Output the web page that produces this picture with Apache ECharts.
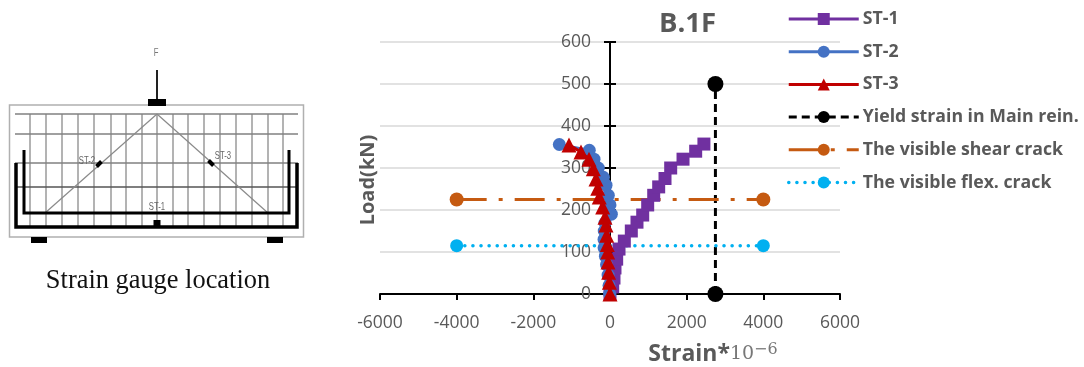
<!DOCTYPE html>
<html>
<head>
<meta charset="utf-8">
<style>
  html, body { margin: 0; padding: 0; background: #fff; }
  #chart { width: 1084px; height: 367px; }
</style>
</head>
<body>
<div id="chart"></div>
<script src="https://cdn.jsdelivr.net/npm/echarts@6/dist/echarts.min.js"></script>
<script>
// values: [strain, load]
var st1 = [[0,0],[70,17],[104,38],[130,62],[174,83],[235,107],[374,126],[556,150],[704,171],[853,188],[983,212],[1140,235],[1270,255],[1435,275],[1583,300],[1905,321],[2235,340],[2450,357]];
var st2 = [[-10,0],[-25,20],[-50,45],[-90,70],[-120,90],[-155,110],[-155,130],[-150,150],[-130,169],[35,190],[0,212],[-44,235],[-104,259],[-174,278],[-305,300],[-417,321],[-540,342],[-1322,356]];
var st3 = [[0,0],[-17,28],[-35,52],[-52,76],[-60,100],[-70,118],[-87,140],[-104,164],[-130,183],[-190,207],[-280,231],[-320,252],[-365,274],[-435,298],[-548,321],[-757,338],[-1070,355]];
var yieldStrain = [[2750,0],[2750,500]];
var shearCrack = [[-4000,225],[4000,225]];
var flexCrack = [[-4000,115],[4000,115]];
var legendNames = ["ST-1","ST-2","ST-3","Yield strain in Main rein.","The visible shear crack","The visible flex. crack"];
var stirrupX = [30,46,62,78,94,111,126,142,157,173,188,204,220,236,252,268,283];

var grey = "#595959";
var chart = echarts.init(document.getElementById("chart"));

// beam sketch on the left
var sketch = [];
function ln(x1, y1, x2, y2, color, w) {
  sketch.push({ type: "line", shape: { x1: x1, y1: y1, x2: x2, y2: y2 }, style: { stroke: color, lineWidth: w } });
}
function box(x, y, w, h, rot) {
  sketch.push({ type: "rect", x: x, y: y, rotation: rot || 0, shape: { x: -w / 2, y: -h / 2, width: w, height: h }, style: { fill: "#000" } });
}
function txt(x, y, s, font, color, sx) {
  sketch.push({ type: "text", x: x, y: y, scaleX: sx || 1, style: { text: s, font: font, fill: color, textAlign: "center", textVerticalAlign: "middle" } });
}
sketch.push({ type: "rect", shape: { x: 9.5, y: 105, width: 294, height: 132 }, style: { fill: "#fff", stroke: "#b0b0b0", lineWidth: 1.5 } });
stirrupX.forEach(function (x) { ln(x, 114, x, 227, "#8a8a8a", 1.3); });
ln(15, 114, 298, 114, "#808080", 1.3);
ln(15, 134, 298, 134, "#808080", 1.3);
ln(15, 163, 298, 163, "#808080", 1.5);
ln(15, 187, 298, 187, "#555", 1.5);
ln(157, 114, 45, 213, "#8a8a8a", 1.2);
ln(157, 114, 268, 213, "#8a8a8a", 1.2);
sketch.push({ type: "polyline", shape: { points: [[24,150],[24,213],[289,213],[289,150]] }, style: { stroke: "#000", lineWidth: 3, fill: null } });
sketch.push({ type: "polyline", shape: { points: [[16,163],[16,227],[297,227],[297,163]] }, style: { stroke: "#000", lineWidth: 3.5, fill: null } });
ln(157, 70, 157, 99, "#222", 2);
box(157, 102.5, 18, 7);
box(39, 240, 16, 6);
box(275, 240, 16, 6);
box(157, 223, 7, 6);
box(99, 164, 7, 4, Math.PI / 4);
box(211, 163, 7, 4, -Math.PI / 4);
txt(156, 53, "F", "11px 'Liberation Sans'", "#777", 0.7);
txt(87, 161, "ST-2", "11px 'Liberation Sans'", "#666", 0.7);
txt(223, 156, "ST-3", "11px 'Liberation Sans'", "#666", 0.7);
txt(157, 207, "ST-1", "11px 'Liberation Sans'", "#666", 0.7);
txt(158, 281, "Strain gauge location", "26.4px 'Liberation Serif'", "#111");

var option = {
  animation: false,
  backgroundColor: "#fff",
  title: {
    text: "B.1F",
    left: 654,
    top: 5,
    textStyle: { fontFamily: "Open Sans", fontSize: 27.5, fontWeight: "bold", color: grey }
  },
  legend: {
    data: legendNames,
    orient: "vertical",
    left: 787,
    top: 10,
    itemWidth: 70,
    itemHeight: 15,
    itemGap: 14.7,
    padding: 0,
    lineStyle: { width: "inherit" },
    textStyle: { fontFamily: "Open Sans", fontSize: 17.7, fontWeight: "bold", color: grey, padding: [0, 0, 0, -1] }
  },
  grid: { left: 380, top: 42, width: 460, height: 252, outerBoundsMode: "none" },
  xAxis: {
    type: "value",
    min: -6000,
    max: 6000,
    interval: 2000,
    axisLine: { lineStyle: { color: "#000", width: 2 } },
    axisTick: { length: 6, lineStyle: { color: "#000", width: 2 } },
    axisLabel: { fontFamily: "Open Sans", fontSize: 17.5, color: grey, margin: 20, formatter: function (v) { return String(v); } },
    splitLine: { show: false },
    name: "{a|Strain*}{b|10}{c|−6}",
    nameLocation: "middle",
    nameGap: 48,
    nameTextStyle: {
      padding: [0, 0, 0, 206],
      rich: {
        a: { fontFamily: "Open Sans", fontSize: 23, fontWeight: "bold", color: grey },
        b: { fontFamily: "DejaVu Serif", fontSize: 19, color: "#777" },
        c: { fontFamily: "DejaVu Serif", fontSize: 16, color: "#777", padding: [0, 0, 8, 0] }
      }
    }
  },
  yAxis: [
    {
      type: "value",
      min: 0,
      max: 600,
      interval: 100,
      position: "left",
      offset: -230,
      axisLine: { show: true, onZero: false, lineStyle: { color: "#000", width: 2 } },
      axisTick: { show: true, length: 6, lineStyle: { color: "#000", width: 2 } },
      axisLabel: { fontFamily: "Open Sans", fontSize: 17.5, color: grey, margin: 19 },
      splitLine: { show: true, lineStyle: { color: "#d9d9d9", width: 1.5 } },
      name: "Load(kN)",
      nameLocation: "middle",
      nameGap: 232,
      nameTextStyle: { fontFamily: "Open Sans", fontSize: 20, fontWeight: "bold", color: grey, padding: [0, 24, 0, 0] }
    },
    {
      // second axis only gives the ticks their inner half
      type: "value",
      min: 0,
      max: 600,
      interval: 100,
      position: "left",
      offset: -230,
      axisLine: { show: true, onZero: false, lineStyle: { color: "#000", width: 2 } },
      axisTick: { show: true, inside: true, length: 6, lineStyle: { color: "#000", width: 2 } },
      axisLabel: { show: false },
      splitLine: { show: false }
    }
  ],
  series: [
    { name: legendNames[0], type: "line", data: st1, z: 4, symbol: "rect", symbolSize: 13,
      itemStyle: { color: "#7030a0" }, lineStyle: { color: "#7030a0", width: 3 } },
    { name: legendNames[1], type: "line", data: st2, z: 5, symbol: "circle", symbolSize: 13,
      itemStyle: { color: "#4472c4" }, lineStyle: { color: "#4472c4", width: 3 } },
    { name: legendNames[2], type: "line", data: st3, z: 6, symbol: "triangle", symbolSize: 15,
      itemStyle: { color: "#c00000" }, lineStyle: { color: "#c00000", width: 3 } },
    { name: legendNames[3], type: "line", data: yieldStrain, z: 3, symbol: "circle", symbolSize: 16,
      itemStyle: { color: "#000" }, lineStyle: { color: "#000", width: 3, type: [8, 5] } },
    { name: legendNames[4], type: "line", data: shearCrack, z: 3, symbol: "circle", symbolSize: 14,
      itemStyle: { color: "#c55a11" }, lineStyle: { color: "#c55a11", width: 3, type: [30, 12, 4, 12] } },
    { name: legendNames[5], type: "line", data: flexCrack, z: 3, symbol: "circle", symbolSize: 13,
      itemStyle: { color: "#00b0f0" }, lineStyle: { color: "#00b0f0", width: 3.5, type: [0.1, 8], cap: "round" } }
  ],
  graphic: { elements: sketch }
};
chart.setOption(option);
</script>
</body>
</html>
